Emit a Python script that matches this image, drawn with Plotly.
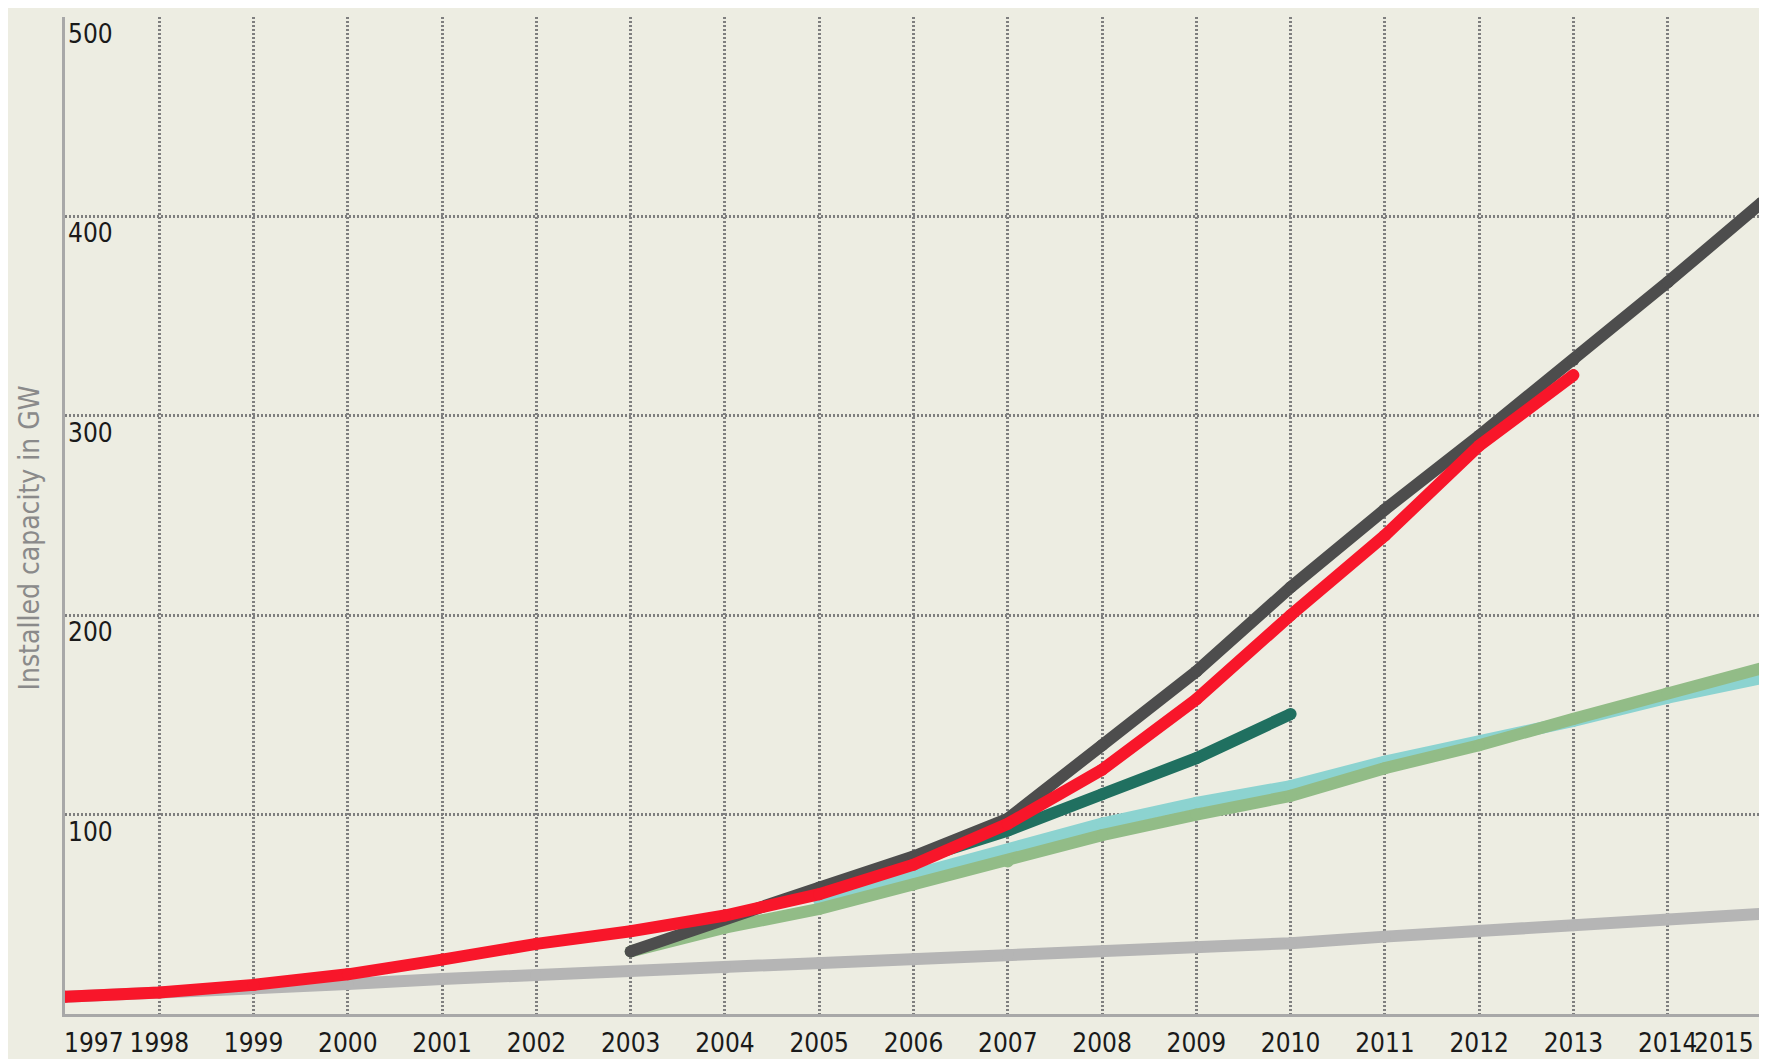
import plotly.graph_objects as go

# ---- data ----
years_all = list(range(1997, 2016))

red_years = list(range(1997, 2014))
red_vals = [8.7, 10.8, 14.6, 19.9, 27.3, 35.2, 41.5, 49.4, 60.1, 74.9, 95.4,
            122.5, 157.8, 200.0, 240.0, 285.0, 320.4]

darkgray_years = list(range(2003, 2016))
darkgray_vals = [31.4, 48.0, 63.4, 79.0, 97.9, 134.8, 171.8, 214.0, 253.0,
                 290.0, 328.0, 367.0, 407.0]

teal_years = list(range(2005, 2011))
teal_vals = [62.0, 77.0, 92.0, 110.2, 128.3, 150.4]

cyan_years = list(range(2005, 2016))
cyan_vals = [57.0, 70.0, 81.5, 95.5, 105.9, 114.3, 126.6, 136.5, 147.0,
             158.6, 168.5]

green_years = list(range(2003, 2016))
green_vals = [31.4, 43.3, 52.7, 65.0, 76.5, 89.7, 100.0, 109.4, 123.3,
              134.8, 148.0, 161.0, 173.4]

lightgray_years = list(range(1997, 2016))
lightgray_vals = [8.7, 10.5, 13.0, 15.0, 17.6, 19.6, 21.5, 23.2, 25.6, 27.3,
                  29.7, 31.4, 33.3, 35.5, 38.8, 41.6, 44.5, 47.5, 50.2]

y_ticks = [100, 200, 300, 400, 500]
x_tick_labels = [str(y) for y in years_all]
y_title = "Installed capacity in GW"

# ---- styling ----
BG = "#EDEDE2"
FONT = "DejaVu Sans Condensed, Liberation Sans Narrow, Arial Narrow, DejaVu Sans, sans-serif"
TICK_SIZE = 26
LW = 12

series = [
    (lightgray_years, lightgray_vals, "#B5B5B5"),
    (cyan_years, cyan_vals, "#8CD3D0"),
    (green_years, green_vals, "#92BC87"),
    (teal_years, teal_vals, "#207060"),
    (darkgray_years, darkgray_vals, "#4D4D4D"),
    (red_years, red_vals, "#F8162A"),
]

fig = go.Figure()
for xs, ys, col in series:
    fig.add_trace(go.Scatter(
        x=xs, y=ys, mode="lines+markers",
        line=dict(color=col, width=LW),
        marker=dict(color=col, size=LW, line=dict(width=0)),
        hoverinfo="skip", showlegend=False,
    ))

grid_col = "#7F7F7F"
fig.update_xaxes(
    range=[1997, 2015], tickvals=years_all,
    ticktext=[("" if t in ("1997", "2015") else t) for t in x_tick_labels],
    showgrid=True, gridcolor=grid_col, gridwidth=2.5, griddash="2px,2px",
    showline=True, linecolor="#A8A8A8", linewidth=3,
    ticks="", zeroline=False, ticklabelstandoff=4,
    tickfont=dict(family=FONT, size=TICK_SIZE, color="#1A1A1A"),
)
fig.update_yaxes(
    range=[0, 500], tickvals=[0] + y_ticks, showticklabels=False,
    showgrid=True, gridcolor=grid_col, gridwidth=2.5, griddash="2px,2px",
    showline=True, linecolor="#A8A8A8", linewidth=3,
    ticks="", zeroline=False,
)

annotations = []
for v in y_ticks:
    annotations.append(dict(
        x=0, xref="paper", y=v, yref="y", text=str(v), showarrow=False,
        xanchor="left", yanchor="middle", xshift=1, yshift=-17,
        font=dict(family=FONT, size=TICK_SIZE, color="#1A1A1A"),
    ))
annotations.append(dict(
    x=years_all[0], xref="x", y=0, yref="paper", text=x_tick_labels[0],
    showarrow=False, xanchor="left", yanchor="top", xshift=-3, yshift=-12,
    font=dict(family=FONT, size=TICK_SIZE, color="#1A1A1A"),
))
annotations.append(dict(
    x=years_all[-1], xref="x", y=0, yref="paper", text=x_tick_labels[-1],
    showarrow=False, xanchor="right", yanchor="top", xshift=-6, yshift=-12,
    font=dict(family=FONT, size=TICK_SIZE, color="#1A1A1A"),
))
annotations.append(dict(
    x=0, xref="paper", y=0.477, yref="paper", text=y_title, showarrow=False,
    textangle=-90, xanchor="center", yanchor="middle", xshift=-36,
    font=dict(family=FONT, size=28, color="#8A8A8A"),
))

fig.update_layout(
    width=1767, height=1059,
    margin=dict(l=57, r=13, t=9, b=35),
    paper_bgcolor=BG, plot_bgcolor=BG,
    annotations=annotations,
)

fig.write_html("out.html")
